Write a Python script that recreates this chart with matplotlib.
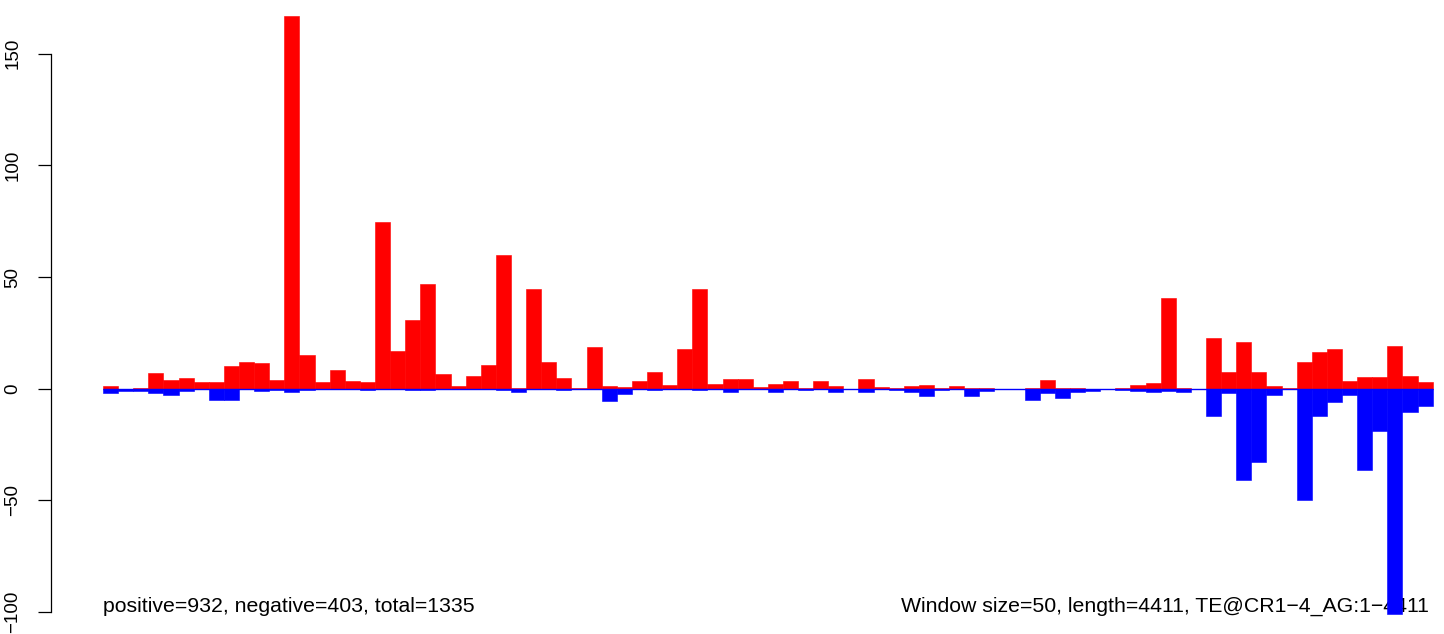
import numpy as np
import matplotlib
matplotlib.use("Agg")
import matplotlib.pyplot as plt

# window counts (window size 50 bp)
window = 50
seq_len = 4411
pos_counts = [1, 0, 0.5, 7, 4, 5, 3, 3, 10, 12, 11.7, 4,
              167, 15.2, 3.1, 8.5, 3.6, 3.1, 74.7, 17, 30.6, 46.8,
              6.7, 1, 5.8, 10.8, 59.8, 0.5, 44.5, 12.1, 4.9, 0.5,
              18.8, 1.3, 0.9, 3.6, 7.6, 1.8, 17.9, 44.5, 2.2, 4.5,
              4.5, 0.9, 2.2, 3.6, 0.5, 3.6, 1.3, 0, 4.5, 0.9, 0.3, 1.3, 1.8, 0.2, 1.3, 0.2,
              0.3, 0, 0, 0.3, 4, 0.3, 0.3, 0, 0, 0.3, 1.8, 2.7, 40.5, 0.5, 0,
              22.9, 7.6, 21.1, 7.6, 1.3, 0.3, 12.1, 16.6, 17.9, 3.6, 5.4, 5.4, 19.3, 5.8, 3.1]
neg_counts = [2, 1, 1, 2, 3, 1, 0, 5, 5, 0, 1, 0.7,
              1.3, 0.5, 0, 0, 0, 0.7, 0, 0, 0.5, 0.5,
              0, 0, 0, 0, 0.5, 1.3, 0, 0, 0.7, 0,
              0, 5.4, 2.2, 0, 0.7, 0, 0, 0.7, 0, 1.3,
              0, 0, 1.3, 0, 0.7, 0, 1.3, 0, 1.3, 0, 0.5, 1.3, 3.1, 0.5, 0, 3.4,
              1.2, 0, 0, 5.2, 2.1, 4.3, 1.6, 1.2, 0, 0.7, 1.2, 1.6, 1.2, 1.6, 0,
              12.4, 2.1, 40.7, 32.6, 3.0, 0, 49.6, 12.4, 6.1, 3.0, 36.2, 19.1, 100.7, 10.6, 7.9]
y_ticks = [-100, -50, 0, 50, 100, 150]
left_note = "positive=932, negative=403, total=1335"
right_note = "Window size=50, length=4411, TE@CR1\u22124_AG:1\u22124411"

plt.rcParams['font.family'] = ['Liberation Sans', 'DejaVu Sans']

W, H = 1444, 634
fig = plt.figure(figsize=(W / 100, H / 100), dpi=100)
ax_left = 50.7
ax = fig.add_axes([ax_left / W, 0, 1 - ax_left / W, 1])

starts = np.arange(len(pos_counts)) * window
neg = -np.array(neg_counts)

# notes first, bars drawn over them as in the original
ax.text(0, -100, left_note, ha='left', va='baseline', fontsize=15.3, zorder=0.5)
ax.text(1429 / W, 1 - 612 / H, right_note, ha='right', va='baseline',
        fontsize=15.3, transform=fig.transFigure, zorder=0.5)

ax.bar(starts, pos_counts, width=window, align='edge', color='#FF0000',
       edgecolor='#FF0000', linewidth=0.4)
ax.bar(starts, neg, width=window, align='edge', color='#0000FF',
       edgecolor='#0000FF', linewidth=0.4)
ax.hlines(0, starts[0], starts[-1] + window, color='#0000FF', linewidth=1.0)

# pixel mapping: zero at 388.7 px from top, 2.234 px per unit, 0.3022 px per bp
ppu = 2.234
ax.set_ylim(-(H - 388.7) / ppu, 388.7 / ppu)
ppbp = 15.11 / window
ax.set_xlim(-(103 - ax_left) / ppbp, (W - 103) / ppbp)

for s in ['top', 'right', 'bottom']:
    ax.spines[s].set_visible(False)
ax.spines['left'].set_bounds(y_ticks[0], y_ticks[-1])
ax.spines['left'].set_linewidth(0.9)
ax.set_xticks([])
ax.set_yticks(y_ticks)
ax.set_yticklabels([str(t).replace('-', '\u2212') for t in y_ticks],
                   rotation=90, va='center', fontsize=13.5)
ax.tick_params(axis='y', length=9.6, width=0.9, pad=11.5)

fig.savefig("out.png", dpi=100)
